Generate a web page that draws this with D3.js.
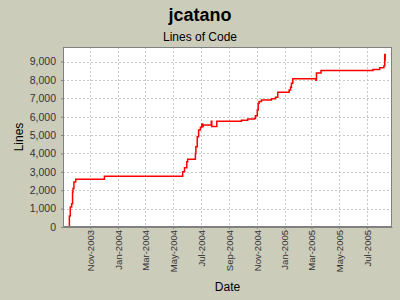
<!DOCTYPE html>
<html>
<head>
<meta charset="utf-8">
<script src="https://cdn.jsdelivr.net/npm/d3@7"></script>
<style>
  html, body { margin: 0; padding: 0; background: #ccccbb; }
  svg { display: block; font-family: "Liberation Sans", Arial, sans-serif; }
</style>
</head>
<body>
<div id="chart"></div>
<script>
let dates = ['2003-09-15','2003-09-16','2003-09-18','2003-09-21','2003-09-23','2003-09-24','2003-09-26','2003-09-30',
             '2003-12-02','2004-05-22','2004-05-26','2004-05-31','2004-06-02','2004-06-19','2004-06-20','2004-06-23',
             '2004-06-26','2004-06-30','2004-07-03','2004-07-05','2004-07-06','2004-07-24','2004-07-25','2004-08-05',
             '2004-09-28','2004-10-12','2004-10-27','2004-10-29','2004-11-02','2004-11-04','2004-11-06','2004-11-11',
             '2004-12-03','2004-12-12','2004-12-17','2005-01-11','2005-01-14','2005-01-16','2005-01-19','2005-03-11',
             '2005-03-12','2005-03-22','2005-07-14','2005-07-29','2005-08-07','2005-08-09','2005-08-10','2005-08-11'];
let lines = [0, 600, 1090, 1270, 1910, 2090, 2450, 2600,
             2760, 3000, 3220, 3550, 3690, 4000, 4360, 4910,
             5270, 5420, 5600, 5460, 5550, 5750, 5460, 5750,
             5800, 5880, 5910, 6050, 6370, 6730, 6820, 6910,
             6970, 7060, 7330, 7450, 7600, 7820, 8060, 7980,
             8370, 8510, 8560, 8660, 8750, 9380, 9050, 9050];
let y_ticks = [0, 1000, 2000, 3000, 4000, 5000, 6000, 7000, 8000, 9000];
let x_domain = ['2003-09-02', '2005-08-25'];
let y_max = 9790;

let width = 400;
let height = 300;
let margin = {top: 47, right: 8, bottom: 73, left: 63};
let parse = d3.utcParse('%Y-%m-%d');

let data = dates.map((d, i) => ({date: parse(d), value: lines[i]}));

let x = d3.scaleUtc()
          .domain(x_domain.map(parse))
          .range([margin.left, width - margin.right]);
let y = d3.scaleLinear()
          .domain([0, y_max])
          .range([height - margin.bottom, margin.top]);

let svg = d3.select('#chart').append('svg')
            .attr('width', width)
            .attr('height', height);

// plot background
svg.append('rect')
    .attr('x', margin.left).attr('y', margin.top)
    .attr('width', width - margin.left - margin.right)
    .attr('height', height - margin.top - margin.bottom)
    .attr('fill', 'white');

let x_ticks = d3.utcMonth.every(2).range(...x.domain());

// grid
svg.append('g').selectAll('line')
    .data(x_ticks)
    .join('line')
        .attr('x1', d => Math.round(x(d)) + 0.5).attr('x2', d => Math.round(x(d)) + 0.5)
        .attr('y1', margin.top).attr('y2', height - margin.bottom)
        .attr('stroke', '#c8c8c8').attr('stroke-dasharray', '2,2');
svg.append('g').selectAll('line')
    .data(y_ticks.slice(1))
    .join('line')
        .attr('x1', margin.left).attr('x2', width - margin.right)
        .attr('y1', d => Math.round(y(d)) + 0.5).attr('y2', d => Math.round(y(d)) + 0.5)
        .attr('stroke', '#c8c8c8').attr('stroke-dasharray', '2,2');

// line
let line = d3.line()
             .x(d => x(d.date))
             .y(d => y(d.value))
             .curve(d3.curveStepAfter);
svg.append('path')
    .datum(data)
    .attr('d', line)
    .attr('fill', 'none')
    .attr('stroke', 'red')
    .attr('stroke-width', 1.5);

// border
svg.append('rect')
    .attr('x', margin.left + 0.5).attr('y', margin.top + 0.5)
    .attr('width', width - margin.left - margin.right - 1)
    .attr('height', height - margin.top - margin.bottom - 1)
    .attr('fill', 'none')
    .attr('stroke', '#808080');

// axes
let x_axis = d3.axisBottom(x)
               .tickValues(x_ticks)
               .tickFormat(d3.utcFormat('%b-%Y'))
               .tickSize(2)
               .tickSizeOuter(0);
let gx = svg.append('g')
            .attr('transform', `translate(0,${height - margin.bottom})`)
            .call(x_axis);

let y_axis = d3.axisLeft(y)
               .tickValues(y_ticks)
               .tickFormat(d3.format(','))
               .tickSize(2)
               .tickSizeOuter(0);
let gy = svg.append('g')
            .attr('transform', `translate(${margin.left},0)`)
            .call(y_axis);

svg.selectAll('.domain').attr('stroke', '#808080');
svg.selectAll('.tick line').attr('stroke', '#808080');
svg.selectAll('.tick text')
    .attr('font-family', '"Liberation Sans", Arial, sans-serif')
    .attr('fill', '#333');
gy.selectAll('text').attr('x', -7).attr('font-size', 10.5);
gx.selectAll('text')
    .attr('transform', 'rotate(-90)')
    .attr('text-anchor', 'end')
    .attr('font-size', 9.5)
    .attr('x', -3)
    .attr('y', 0)
    .attr('dy', '0.35em');

// titles
svg.append('text')
    .attr('x', width / 2).attr('y', 21)
    .attr('text-anchor', 'middle')
    .attr('font-size', 18).attr('font-weight', 'bold')
    .text('jcatano');
svg.append('text')
    .attr('x', width / 2).attr('y', 40.5)
    .attr('text-anchor', 'middle')
    .attr('font-size', 12)
    .text('Lines of Code');
svg.append('text')
    .attr('x', (margin.left + width - margin.right) / 2).attr('y', 291)
    .attr('text-anchor', 'middle')
    .attr('font-size', 12)
    .text('Date');
svg.append('text')
    .attr('transform', `translate(23,${(margin.top + height - margin.bottom) / 2}) rotate(-90)`)
    .attr('text-anchor', 'middle')
    .attr('font-size', 12)
    .text('Lines');
</script>
</body>
</html>
